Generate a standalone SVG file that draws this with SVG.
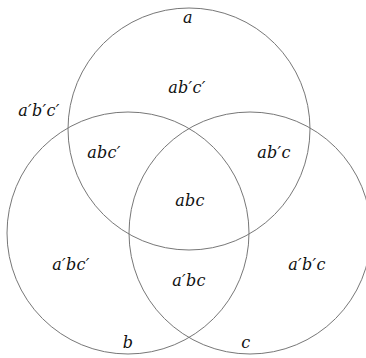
<svg xmlns="http://www.w3.org/2000/svg" width="366" height="358" viewBox="0 0 366 358">
<style>
.c{fill:none;stroke:#777;stroke-width:1}
text{font-family:"DejaVu Serif","Liberation Serif",serif;font-style:italic;font-size:16px;fill:#111;text-anchor:middle;letter-spacing:0.3px}
</style>
<rect width="366" height="358" fill="#fff"/>
<g id="circleA"><circle class="c" cx="189" cy="129" r="121"/><text x="188" y="23">a</text></g>
<g id="circleB"><circle class="c" cx="128" cy="233" r="121"/><text x="128" y="348">b</text></g>
<g id="circleC"><circle class="c" cx="250" cy="233" r="121"/><text x="246" y="348">c</text></g>
<g id="regions">
<text x="39" y="116">a′b′c′</text>
<text x="187" y="93">ab′c′</text>
<text x="104" y="158">abc′</text>
<text x="274" y="158">ab′c</text>
<text x="190" y="206">abc</text>
<text x="71" y="270">a′bc′</text>
<text x="189" y="286">a′bc</text>
<text x="307" y="270">a′b′c</text>
</g>
</svg>
